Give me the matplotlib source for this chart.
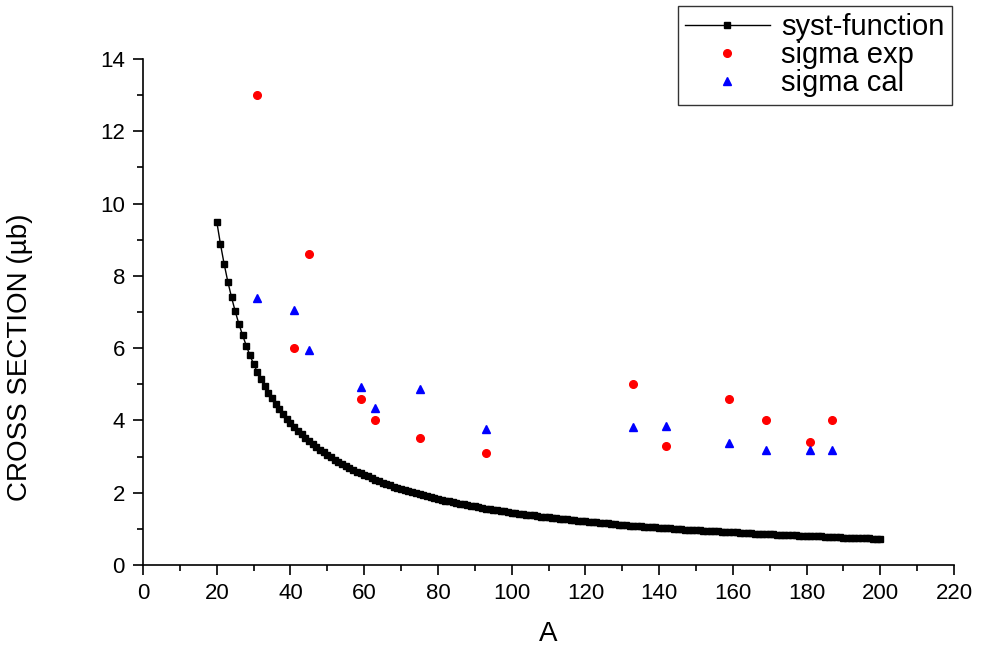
import matplotlib
matplotlib.use("Agg")
import matplotlib.pyplot as plt
from matplotlib.ticker import MultipleLocator

# syst-function, one point per integer A from 20 to 200
A_SYST = list(range(20, 201))
SIGMA_SYST = [
    9.50, 8.88, 8.33, 7.84, 7.41, 7.02, 6.67, 6.36, 6.07, 5.80,
    5.56, 5.34, 5.14, 4.95, 4.77, 4.61, 4.45, 4.31, 4.18, 4.05,
    3.93, 3.82, 3.71, 3.62, 3.52, 3.43, 3.35, 3.27, 3.19, 3.12,
    3.05, 2.98, 2.91, 2.85, 2.80, 2.74, 2.69, 2.63, 2.58, 2.54,
    2.49, 2.45, 2.40, 2.36, 2.32, 2.28, 2.25, 2.21, 2.17, 2.14,
    2.11, 2.08, 2.05, 2.02, 1.99, 1.96, 1.93, 1.91, 1.88, 1.85,
    1.83, 1.81, 1.78, 1.76, 1.74, 1.72, 1.70, 1.68, 1.66, 1.64,
    1.62, 1.60, 1.58, 1.56, 1.55, 1.53, 1.51, 1.50, 1.48, 1.47,
    1.45, 1.44, 1.42, 1.41, 1.39, 1.38, 1.37, 1.35, 1.34, 1.33,
    1.32, 1.30, 1.29, 1.28, 1.27, 1.26, 1.25, 1.24, 1.23, 1.22,
    1.21, 1.20, 1.19, 1.18, 1.17, 1.16, 1.15, 1.14, 1.13, 1.12,
    1.11, 1.10, 1.09, 1.09, 1.08, 1.07, 1.06, 1.05, 1.05, 1.04,
    1.03, 1.02, 1.02, 1.01, 1.00, 1.00, 0.99, 0.98, 0.98, 0.97,
    0.96, 0.96, 0.95, 0.94, 0.94, 0.93, 0.93, 0.92, 0.92, 0.91,
    0.90, 0.90, 0.89, 0.89, 0.88, 0.88, 0.87, 0.87, 0.86, 0.86,
    0.85, 0.85, 0.84, 0.84, 0.83, 0.83, 0.82, 0.82, 0.81, 0.81,
    0.80, 0.80, 0.80, 0.79, 0.79, 0.78, 0.78, 0.77, 0.77, 0.77,
    0.76, 0.76, 0.75, 0.75, 0.75, 0.74, 0.74, 0.74, 0.73, 0.73,
    0.73,
]

A_DATA = [31, 41, 45, 59, 63, 75, 93, 133, 142, 159, 169, 181, 187]
SIGMA_EXP = [13.0, 6.0, 8.6, 4.6, 4.0, 3.5, 3.1, 5.0, 3.3, 4.6, 4.0, 3.4, 4.0]
SIGMA_CAL = [7.38, 7.05, 5.95, 4.92, 4.35, 4.87, 3.75, 3.82, 3.85, 3.38, 3.18, 3.18, 3.18]

plt.rcParams["font.family"] = ["Liberation Sans", "DejaVu Sans"]

fig = plt.figure(figsize=(9.81, 6.48), dpi=100)
ax = fig.add_axes([0.1458, 0.1281, 0.8267, 0.7809])

ax.plot(A_SYST, SIGMA_SYST, "-s", color="black", lw=1.0, ms=4.2, label="syst-function")
ax.plot(A_DATA, SIGMA_EXP, "o", color="#ff0000", ms=5.5, ls="none", label="sigma exp")
ax.plot(A_DATA, SIGMA_CAL, "^", color="#0000ff", ms=6.0, ls="none", label="sigma cal")

ax.set_xlim(0, 220)
ax.set_ylim(0, 14)
ax.xaxis.set_major_locator(MultipleLocator(20))
ax.xaxis.set_minor_locator(MultipleLocator(10))
ax.yaxis.set_major_locator(MultipleLocator(2))
ax.yaxis.set_minor_locator(MultipleLocator(1))
for s in ("top", "right"):
    ax.spines[s].set_visible(False)
for s in ("left", "bottom"):
    ax.spines[s].set_linewidth(1.2)
ax.tick_params(which="major", direction="out", length=7, width=1.2, labelsize=16, pad=6)
ax.tick_params(which="minor", direction="out", length=4, width=1.2)
ax.set_xlabel("A", fontsize=20)
ax.set_ylabel("CROSS SECTION (µb)", fontsize=20)
ax.xaxis.set_label_coords(0.5, -0.11)
ax.yaxis.set_label_coords(-0.1356, 0.41)

leg = ax.legend(loc="upper right", bbox_to_anchor=(0.9704, 0.9907), bbox_transform=fig.transFigure,
                borderaxespad=0, fontsize=21, fancybox=False, framealpha=1, edgecolor="#333333",
                handlelength=2.9, labelspacing=0.0, borderpad=0.25, handletextpad=0.4)
leg.get_frame().set_linewidth(1.0)

fig.savefig("out.png", dpi=100)
